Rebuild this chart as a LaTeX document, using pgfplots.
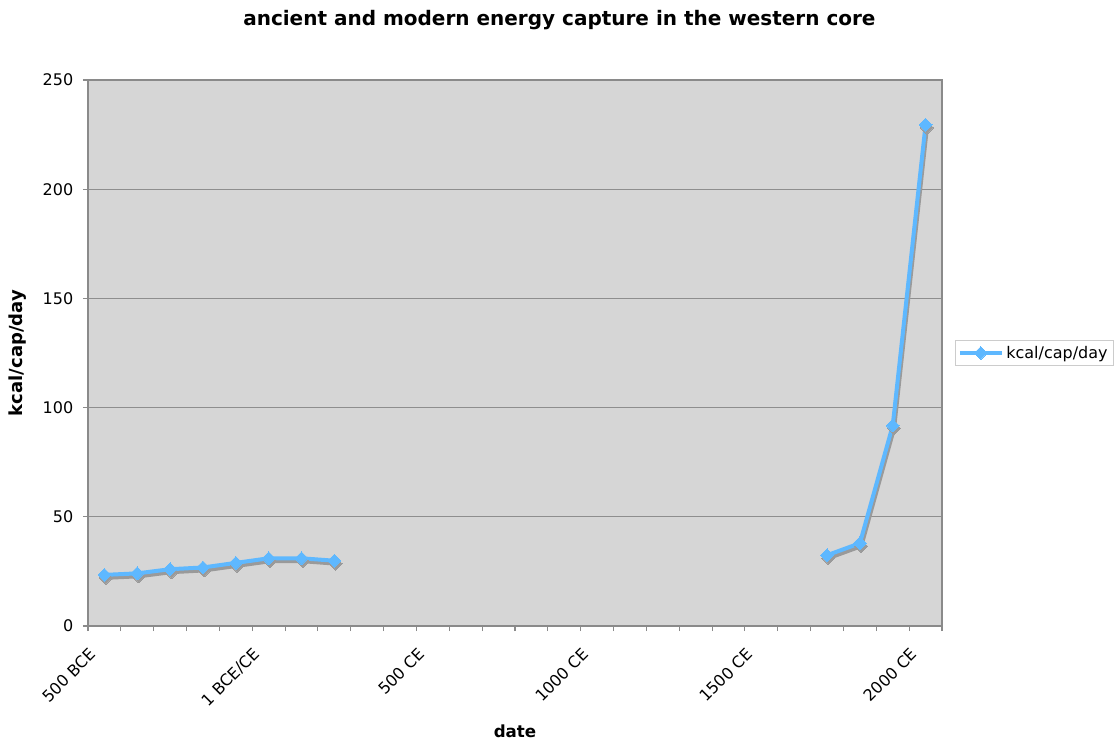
\documentclass[border=0pt]{standalone}
\usepackage{pgfplots}
\pgfplotsset{compat=1.18}
\usepackage{fontspec}
\setmainfont{DejaVu Sans}
\definecolor{bgc}{HTML}{D6D6D6}
\definecolor{gridc}{HTML}{8E8E8E}
\definecolor{axc}{HTML}{8A8A8A}
\definecolor{ser}{HTML}{5EB8FF}
\definecolor{shd}{HTML}{9A9A9A}
\pgfplotstableread{
x y
0 23.4
1 24.1
2 26.0
3 26.8
4 28.9
5 31.0
6 31.0
7 29.9
8 nan
22 32.4
23 37.9
24 91.8
25 229.5
}\energy
\begin{document}
\begin{tikzpicture}[font=\fontsize{12}{14}\selectfont]
\useasboundingbox (-66pt,-85.5pt) rectangle (773.25pt,469.5pt);
\begin{axis}[
  scale only axis,
  width=640.5pt, height=409.5pt,
  at={(0,0)}, anchor=south west,
  xmin=-0.5, xmax=25.5, ymin=0, ymax=250,
  unbounded coords=jump,
  axis background/.style={fill=bgc},
  axis line style={draw=axc, line width=1pt},
  ytick={0,50,...,250},
  ymajorgrids, grid style={draw=gridc, line width=0.8pt},
  xtick={-0.5,0.5,...,25.5}, xticklabels={},
  extra x ticks={-0.25,4.75,9.75,14.75,19.75,24.75},
  extra x tick labels={500 BCE,1 BCE/CE,500 CE,1000 CE,1500 CE,2000 CE},
  extra x tick style={major tick length=0pt, grid=none,
     xticklabel style={rotate=45, anchor=east}},
  xticklabel shift=16.5pt,
  yticklabel shift=3.75pt,
  tick align=outside, major tick length=3.75pt,
  tick style={draw=axc, line width=0.8pt},
  xtick pos=bottom, ytick pos=left,
  /pgf/number format/assume math mode=true,
  title={ancient and modern energy capture in the western core},
  title style={at={(axis description cs:0.552,1.0953)}, anchor=center, yshift=0pt, font=\bfseries\fontsize{15}{18}\selectfont},
  xlabel={date},
  xlabel style={at={(axis description cs:0.5,-0.1923)}, anchor=center, font=\bfseries\fontsize{12.5}{15}\selectfont},
  ylabel={kcal/cap/day},
  ylabel style={at={(axis description cs:-0.082,0.5)}, anchor=center, font=\bfseries\fontsize{13.5}{16}\selectfont},
  legend style={at={(1,0.5)}, xshift=9.75pt, anchor=west, draw=gray!40, fill=white,
     font=\fontsize{12}{14}\selectfont, inner sep=2pt},
  legend image code/.code={\draw[mark repeat=2,mark phase=2,#1] plot coordinates {(0cm,0cm) (0.55cm,0cm) (1.1cm,0cm)};},
  legend cell align=left,
]
\addplot[forget plot, draw=shd, line width=3pt, mark=square*, mark size=3.4pt,
   mark options={rotate=45, fill=shd, draw=shd, line width=0pt}, xshift=1pt, yshift=-2.2pt]
   table[x=x,y=y]{\energy};
\addplot[draw=ser, line width=3pt, mark=square*, mark size=3.4pt,
   mark options={rotate=45, fill=ser, draw=ser, line width=0pt}]
   table[x=x,y=y]{\energy};
\addlegendentry{kcal/cap/day}
\end{axis}
\end{tikzpicture}
\end{document}
